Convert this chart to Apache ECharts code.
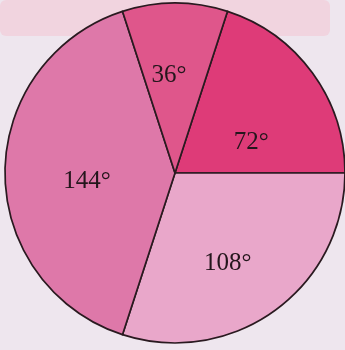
<!DOCTYPE html>
<html>
<head>
<meta charset="utf-8">
<script src="https://cdn.jsdelivr.net/npm/echarts@6/dist/echarts.min.js"></script>
<style>
  html, body { margin: 0; padding: 0; background: #eee6ee; }
  #chart { width: 345px; height: 350px; }
</style>
</head>
<body>
<div id="chart"></div>
<script>
// Sector angles in degrees, listed clockwise starting from the 72° sector
const sectorAngles = [72, 108, 144, 36];
const sectorColors = ['#de3b78', '#e9a7ca', '#de78a9', '#df568b'];
// Fine nudges of each label away from the default "inside" spot
const labelNudge = [[5, 21], [1, 19], [0, 8], [-6, -10]];

const chart = echarts.init(document.getElementById('chart'), null, { renderer: 'canvas' });

chart.setOption({
  backgroundColor: '#eee6ee',
  animation: false,
  graphic: [
    {
      type: 'rect',
      z: -10,
      shape: { x: 0, y: 0, width: 330, height: 36, r: 6 },
      style: { fill: '#f1d4df' }
    }
  ],
  series: [
    {
      type: 'pie',
      center: [175, 173],
      radius: [0, 170],
      startAngle: 72,
      clockwise: true,
      avoidLabelOverlap: false,
      silent: true,
      data: sectorAngles.map((v, i) => ({
        value: v,
        name: v + '°',
        itemStyle: { color: sectorColors[i] }
      })),
      itemStyle: {
        borderColor: '#2a1a20',
        borderWidth: 1.7
      },
      label: {
        show: true,
        position: 'inside',
        formatter: p => p.value + '°',
        fontFamily: '"Liberation Serif", "DejaVu Serif", serif',
        fontSize: 25,
        color: '#24161c'
      },
      labelLine: { show: false },
      labelLayout: params => ({
        dx: labelNudge[params.dataIndex][0],
        dy: labelNudge[params.dataIndex][1]
      })
    }
  ]
});
</script>
</body>
</html>
